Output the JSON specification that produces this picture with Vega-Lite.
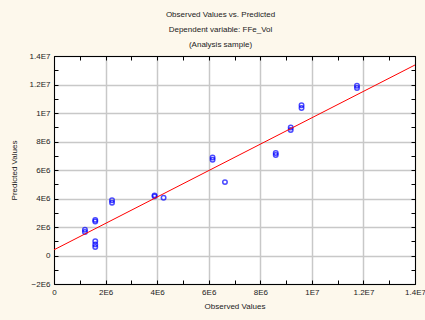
{
  "$schema": "https://vega.github.io/schema/vega-lite/v6.json",
  "autosize": "none",
  "width": 361,
  "height": 228,
  "padding": {"left": 54, "top": 56, "right": 10, "bottom": 36},
  "background": "#FDF8EC",
  "config": {
    "font": "Liberation Sans",
    "view": {"fill": "white", "stroke": "black", "strokeWidth": 1},
    "axis": {"labelFont": "Liberation Sans", "titleFont": "Liberation Sans", "labelFontSize": 8, "titleFontSize": 8, "titleFontWeight": "normal", "labelColor": "#222", "titleColor": "#222", "domainColor": "black", "tickColor": "black", "gridColor": "#c8c8c8", "gridWidth": 1.5}
  },
  "title": {
    "text": "Observed Values vs. Predicted",
    "subtitle": ["Dependent variable: FFe_Vol", "(Analysis sample)"],
    "fontSize": 8,
    "fontWeight": "normal",
    "color": "#222",
    "subtitleFontSize": 8,
    "subtitleColor": "#222",
    "subtitleLineHeight": 15,
    "subtitlePadding": 7,
    "anchor": "middle",
    "dx": -14,
    "offset": 3
  },
  "datasets": {
    "pts": [
      {"obs": 1200000, "pred": 1800000},
      {"obs": 1200000, "pred": 1650000},
      {"obs": 1600000, "pred": 2500000},
      {"obs": 1600000, "pred": 2380000},
      {"obs": 1600000, "pred": 1000000},
      {"obs": 1600000, "pred": 780000},
      {"obs": 1600000, "pred": 600000},
      {"obs": 2250000, "pred": 3880000},
      {"obs": 2250000, "pred": 3700000},
      {"obs": 3900000, "pred": 4220000},
      {"obs": 3900000, "pred": 4150000},
      {"obs": 4250000, "pred": 4050000},
      {"obs": 6150000, "pred": 6880000},
      {"obs": 6150000, "pred": 6720000},
      {"obs": 6630000, "pred": 5150000},
      {"obs": 8600000, "pred": 7200000},
      {"obs": 8600000, "pred": 7050000},
      {"obs": 9180000, "pred": 8980000},
      {"obs": 9180000, "pred": 8800000},
      {"obs": 9600000, "pred": 10550000},
      {"obs": 9600000, "pred": 10350000},
      {"obs": 11750000, "pred": 11920000},
      {"obs": 11750000, "pred": 11750000}
    ],
    "fit": [
      {"obs": 0, "pred": 400000},
      {"obs": 14000000, "pred": 13370000}
    ]
  },
  "resolve": {"axis": {"x": "independent", "y": "independent"}},
  "layer": [
    {
      "data": {"name": "pts"},
      "mark": {"type": "point", "shape": "circle", "filled": false, "color": "#0000FF", "size": 20, "strokeWidth": 1.5},
      "encoding": {
        "x": {
          "field": "obs", "type": "quantitative",
          "scale": {"domain": [0, 14000000], "nice": false, "zero": false},
          "axis": {
            "title": "Observed Values", "titlePadding": 6,
            "values": [0,1000000,2000000,3000000,4000000,5000000,6000000,7000000,8000000,9000000,10000000,11000000,12000000,13000000,14000000],
            "labelExpr": "datum.value % 2000000 != 0 ? '' : (datum.value == 0 ? '0' : replace(format(datum.value, '.2~e'), 'e+', 'E'))",
            "tickSize": -4, "labelPadding": 8, "labelFlush": false,
            "gridOpacity": {"condition": {"test": "datum.value % 2000000 == 0", "value": 1}, "value": 0}
          }
        },
        "y": {
          "field": "pred", "type": "quantitative",
          "scale": {"domain": [-2000000, 14000000], "nice": false, "zero": false},
          "axis": {
            "title": "Predicted Values", "titlePadding": 11,
            "values": [-2000000,-1000000,0,1000000,2000000,3000000,4000000,5000000,6000000,7000000,8000000,9000000,10000000,11000000,12000000,13000000,14000000],
            "labelExpr": "datum.value % 2000000 != 0 ? '' : (datum.value == 0 ? '0' : replace(format(datum.value, '.2~e'), 'e+', 'E'))",
            "tickSize": -4, "labelPadding": 8, "labelFlush": false,
            "gridOpacity": {"condition": {"test": "datum.value % 2000000 == 0", "value": 1}, "value": 0}
          }
        }
      }
    },
    {
      "data": {"name": "fit"},
      "mark": {"type": "line", "color": "#FF0000", "strokeWidth": 1},
      "encoding": {
        "x": {
          "field": "obs", "type": "quantitative",
          "axis": {
            "orient": "top", "title": null, "labels": false, "grid": false,
            "values": [0,1000000,2000000,3000000,4000000,5000000,6000000,7000000,8000000,9000000,10000000,11000000,12000000,13000000,14000000],
            "tickSize": -4
          }
        },
        "y": {
          "field": "pred", "type": "quantitative",
          "axis": {
            "orient": "right", "title": null, "labels": false, "grid": false,
            "values": [-2000000,-1000000,0,1000000,2000000,3000000,4000000,5000000,6000000,7000000,8000000,9000000,10000000,11000000,12000000,13000000,14000000],
            "tickSize": -4
          }
        }
      }
    }
  ]
}
